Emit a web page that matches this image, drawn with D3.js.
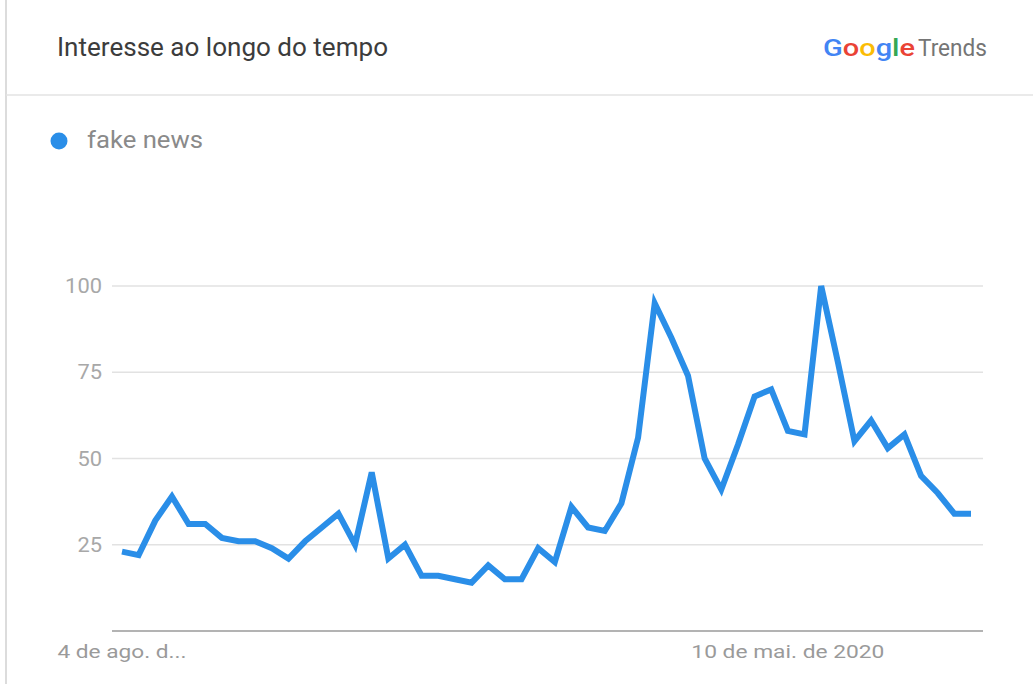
<!DOCTYPE html>
<html>
<head>
<meta charset="utf-8">
<script src="https://cdn.jsdelivr.net/npm/d3@7"></script>
<style>
  body { margin: 0; background: #fff; }
  svg { display: block; font-family: Roboto, "Noto Sans", sans-serif; }
</style>
</head>
<body>
<svg width="1033" height="684"></svg>
<script>
let startDate = '2019-08-04'
let values = [
    23, 22, 32, 39, 31, 31, 27, 26, 26, 24,
    21, 26, 30, 34, 25, 46, 21, 25, 16, 16,
    15, 14, 19, 15, 15, 24, 20, 36, 30, 29,
    37, 56, 95, 85, 74, 50, 41, 54, 68, 70,
    58, 57, 100, 78, 55, 61, 53, 57, 45, 40,
    34, 34
]
let yTicks = [25, 50, 75, 100]
let xLabels = [
    { index: 0, text: '4 de ago. d...', width: 129 },
    { index: 40, text: '10 de mai. de 2020', width: 193 }
]
let seriesName = 'fake news'

let parse = d3.timeParse('%Y-%m-%d')
let start = parse(startDate)
let data = values.map((v, i) => ({ date: d3.timeDay.offset(start, i * 7), value: v }))

let svg = d3.select('svg')
let blue = '#2a8ee8'

// card frame
svg.append('line')
    .attr('x1', 6).attr('x2', 6).attr('y1', 0).attr('y2', 684)
    .attr('stroke', '#dcdcdc').attr('stroke-width', 2)
svg.append('line')
    .attr('x1', 6).attr('x2', 1033).attr('y1', 95).attr('y2', 95)
    .attr('stroke', '#e3e3e3').attr('stroke-width', 1.5)

// header
svg.append('text')
    .attr('x', 57).attr('y', 56)
    .attr('font-size', 25)
    .attr('fill', '#3c3c3c')
    .attr('textLength', 331)
    .attr('lengthAdjust', 'spacingAndGlyphs')
    .text('Interesse ao longo do tempo')

let logo = svg.append('text')
    .attr('x', 823).attr('y', 56)
    .attr('font-size', 23)
    .attr('font-weight', 500)
    .attr('textLength', 92)
    .attr('lengthAdjust', 'spacingAndGlyphs')
let googleColors = ['#4285f4', '#ea4335', '#fbbc05', '#4285f4', '#34a853', '#ea4335']
'Google'.split('').forEach((c, i) => {
    logo.append('tspan').attr('fill', googleColors[i]).text(c)
})
svg.append('text')
    .attr('x', 918).attr('y', 56)
    .attr('font-size', 23)
    .attr('fill', '#757575')
    .attr('textLength', 69)
    .attr('lengthAdjust', 'spacingAndGlyphs')
    .text('Trends')

// legend
svg.append('circle')
    .attr('cx', 59).attr('cy', 141).attr('r', 8.5)
    .attr('fill', blue)
svg.append('text')
    .attr('x', 87).attr('y', 148)
    .attr('font-size', 23)
    .attr('fill', '#8a8a8a')
    .attr('textLength', 116)
    .attr('lengthAdjust', 'spacingAndGlyphs')
    .text(seriesName)

// scales
let x = d3.scaleTime()
    .domain(d3.extent(data, d => d.date))
    .range([122, 971])
let y = d3.scaleLinear()
    .domain([0, 100])
    .range([631, 286])

// grid
let grid = svg.append('g')
grid.selectAll('line')
    .data(yTicks)
    .enter()
    .append('line')
    .attr('x1', 112).attr('x2', 983)
    .attr('y1', d => y(d)).attr('y2', d => y(d))
    .attr('stroke', '#e2e2e2').attr('stroke-width', 1.5)
grid.selectAll('text')
    .data(yTicks)
    .enter()
    .append('text')
    .attr('x', 102)
    .attr('y', d => y(d))
    .attr('dy', '0.36em')
    .attr('text-anchor', 'end')
    .attr('font-size', 20)
    .attr('fill', '#a8a8a8')
    .attr('textLength', d => String(d).length * 12.3)
    .attr('lengthAdjust', 'spacingAndGlyphs')
    .text(d => d)

// baseline
svg.append('line')
    .attr('x1', 112).attr('x2', 983)
    .attr('y1', y(0)).attr('y2', y(0))
    .attr('stroke', '#9a9a9a').attr('stroke-width', 1.5)

// x labels
svg.selectAll('text.xlabel')
    .data(xLabels)
    .enter()
    .append('text')
    .attr('class', 'xlabel')
    .attr('x', d => x(data[d.index].date) - d.width / 2)
    .attr('y', 658)
    .attr('font-size', 19)
    .attr('fill', '#9a9a9a')
    .attr('textLength', d => d.width)
    .attr('lengthAdjust', 'spacingAndGlyphs')
    .text(d => d.text)

// line
let line = d3.line()
    .x(d => x(d.date))
    .y(d => y(d.value))

svg.append('path')
    .datum(data)
    .attr('d', line)
    .attr('fill', 'none')
    .attr('stroke', blue)
    .attr('stroke-width', 6)
    .attr('stroke-linejoin', 'miter')
    .attr('stroke-linecap', 'butt')
</script>
</body>
</html>
